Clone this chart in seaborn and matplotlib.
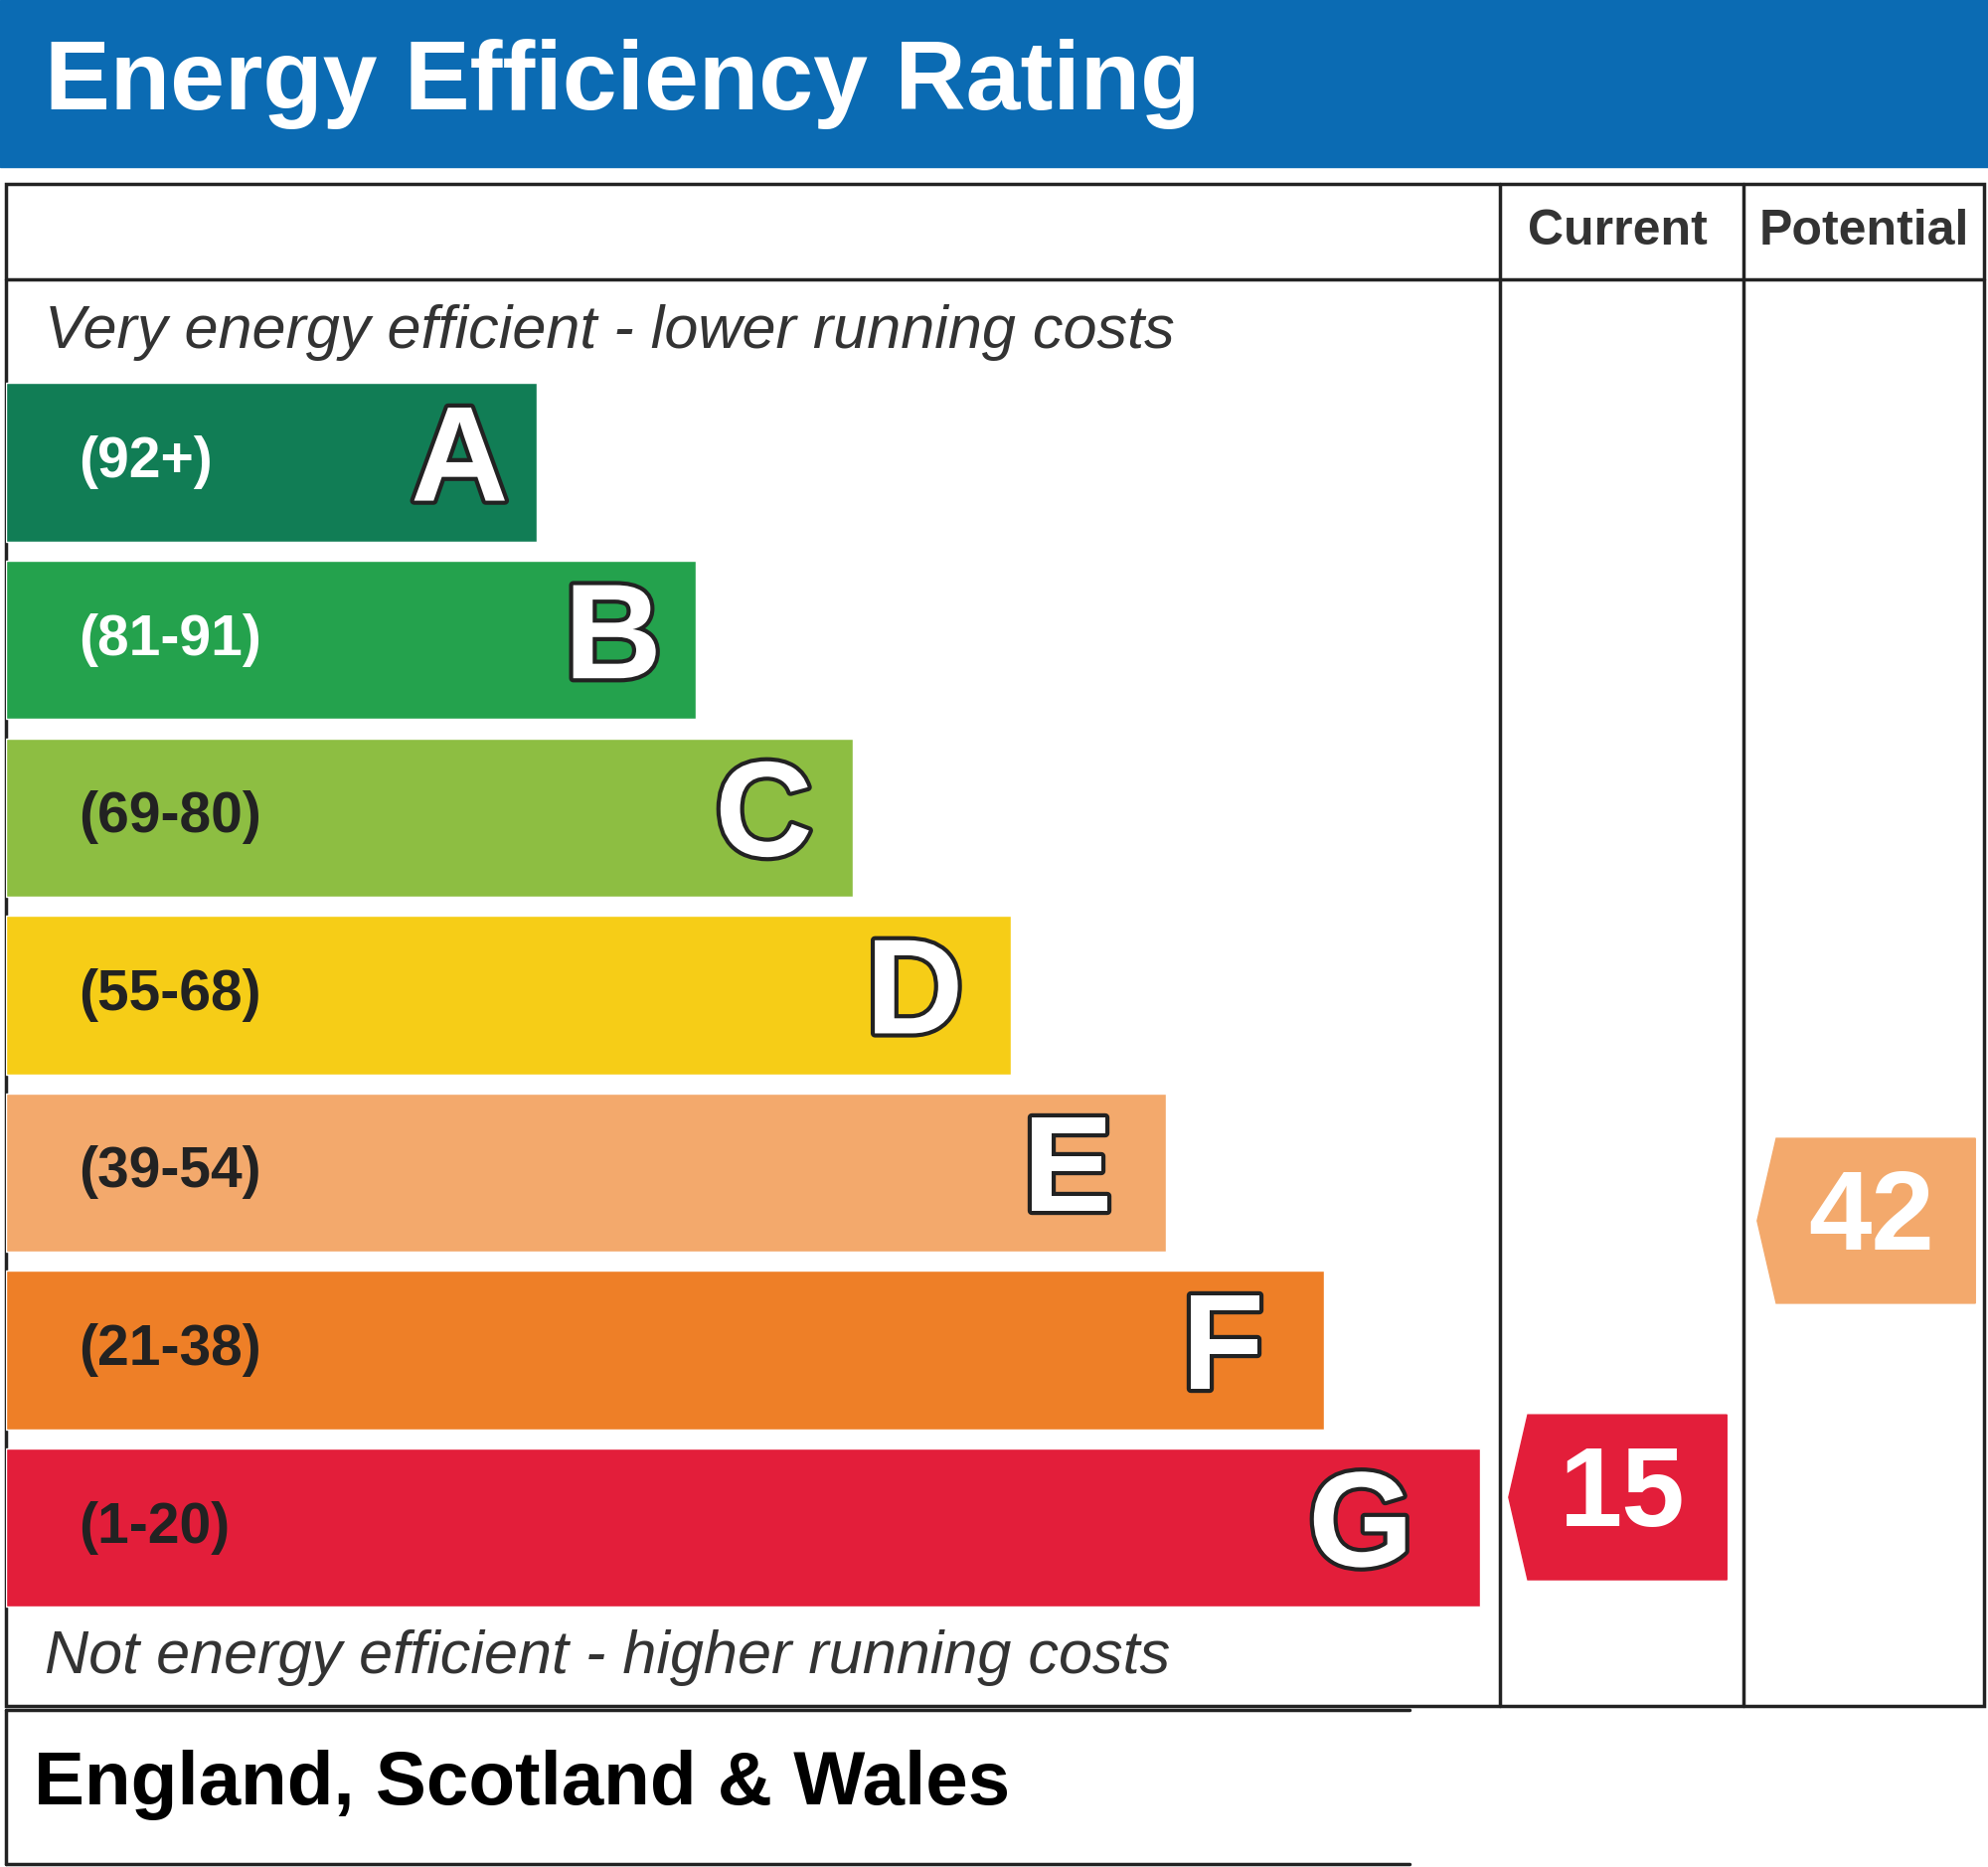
import matplotlib
matplotlib.use('Agg')
import matplotlib.pyplot as plt
import matplotlib.patheffects as pe
from matplotlib.patches import Rectangle, Polygon
import seaborn as sns
import pandas as pd

# --- data ---
bands = ['A', 'B', 'C', 'D', 'E', 'F', 'G']
ranges = ['(92+)', '(81-91)', '(69-80)', '(55-68)', '(39-54)', '(21-38)', '(1-20)']
bar_lengths = [418, 544, 668, 792, 915, 1039, 1162]
colors = ['#117D55', '#24A24D', '#8DBE42', '#F6CD17', '#F3A96C', '#EE7F27', '#E31E3A']
range_text_colors = ['white', 'white', '#222222', '#222222', '#222222', '#222222', '#222222']
current_value, current_band = 15, 'G'
potential_value, potential_band = 42, 'E'

sns.set_theme(style='white')
plt.rcParams['font.family'] = ['Liberation Sans', 'DejaVu Sans']

W, H = 1568, 1472
fig = plt.figure(figsize=(20, 18.78), dpi=100)
ax = fig.add_axes([0, 0, 1, 1])
ax.set_xlim(0, W)
ax.set_ylim(H, 0)
ax.axis('off')

# title bar
ax.add_patch(Rectangle((0, 0), W, 132, color='#0B6BB3'))
ax.text(35, 66, 'Energy Efficiency Rating', color='white', fontsize=71,
        fontweight='bold', va='center', ha='left')

# table frame
lw = 2.5
ax.add_patch(Rectangle((5, 145), 1560, 1200, fill=False, lw=lw, ec='#222222'))
ax.plot([5, 1565], [220, 220], color='#222222', lw=lw)
for x in (1183, 1375):
    ax.plot([x, x], [145, 1345], color='#222222', lw=lw)
ax.plot([5, 1112], [1348, 1348], color='#222222', lw=lw)
ax.plot([5, 5], [1348, 1470], color='#222222', lw=lw)
ax.plot([5, 1112], [1470, 1470], color='#222222', lw=lw)
ax.text(1276, 183, 'Current', fontsize=36, fontweight='bold', ha='center', va='center', color='#333333')
ax.text(1470, 183, 'Potential', fontsize=36, fontweight='bold', ha='center', va='center', color='#333333')
ax.text(35, 262, 'Very energy efficient - lower running costs', fontsize=44,
        style='italic', va='center', color='#333333')
ax.text(35, 1307, 'Not energy efficient - higher running costs', fontsize=44,
        style='italic', va='center', color='#333333')
ax.text(27, 1407, 'England, Scotland & Wales', fontsize=55, fontweight='bold',
        va='center', color='black')

# bars
top, step, bh = 302, 140, 125
bx0, bx1 = 5, 1183
bax = fig.add_axes([bx0 / W, 1 - (top - (step - bh) / 2 + 7 * step) / H,
                    (bx1 - bx0) / W, 7 * step / H])
df = pd.DataFrame({'band': bands, 'length': bar_lengths})
sns.barplot(data=df, x='length', y='band', hue='band', palette=colors,
            orient='h', width=bh / step, legend=False, ax=bax, saturation=1)
bax.set_xlim(0, bx1 - bx0)
bax.axis('off')
for i, (b, r, L, tc) in enumerate(zip(bands, ranges, bar_lengths, range_text_colors)):
    bax.text(57, i, r, fontsize=41, fontweight='bold', color=tc, va='center')
    bax.text(L - 22 - 5 * i, i + 0.02, b, fontsize=98, fontweight='bold', color='white',
             ha='right', va='center',
             path_effects=[pe.withStroke(linewidth=6, foreground='#222222')])

# rating arrows
def arrow(x0, x1, band, value, color, dy):
    yc = top + bh / 2 + step * bands.index(band) + dy
    h = 130
    pts = [(x0, yc), (x0 + 15, yc - h / 2), (x1, yc - h / 2), (x1, yc + h / 2), (x0 + 15, yc + h / 2)]
    ax.add_patch(Polygon(pts, closed=True, color=color))
    ax.text((x0 + x1) / 2 + 4, yc, str(value), fontsize=82, fontweight='bold',
            color='white', ha='center', va='center')

arrow(1190, 1362, current_band, current_value, colors[bands.index(current_band)], -24)
arrow(1386, 1558, potential_band, potential_value, colors[bands.index(potential_band)], 38)

fig.savefig('out.png', dpi=100)
